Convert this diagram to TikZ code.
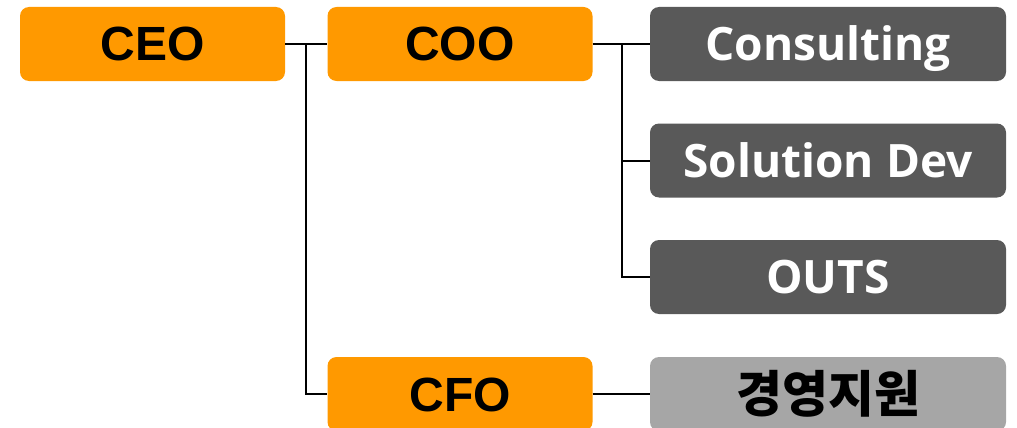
\documentclass[tikz,border=0pt]{standalone}
\usepackage{fontspec}
\setmainfont{Liberation Sans}
\newfontfamily\uifont{Open Sans}
\newfontfamily\krfont{Noto Sans CJK KR}
\definecolor{orgc}{HTML}{FF9900}
\definecolor{dgc}{HTML}{595959}
\definecolor{lgc}{HTML}{A6A6A6}
\begin{document}
\begin{tikzpicture}[x=1pt,y=-1pt,
  box/.style={rectangle,rounded corners=9pt,inner sep=0pt,minimum height=74pt,anchor=center},
  execbox/.style={box,fill=orgc,minimum width=265pt,text=black,font=\fontsize{48}{50}\selectfont\bfseries,text height=34pt,text depth=0pt},
  unitbox/.style={box,fill=dgc,minimum width=356pt,text=white,font=\uifont\fontsize{46}{50}\selectfont\bfseries,text height=33pt,text depth=0pt},
  krbox/.style={box,fill=lgc,minimum width=356pt,text=black,font=\krfont\fontsize{50}{52}\selectfont\bfseries,text height=38pt,text depth=2pt},
  conn/.style={draw=black,line width=2pt}]
\useasboundingbox (0,0) rectangle (1017,428);
\clip (0,0) rectangle (1017,428);
\node[execbox] (ceo) at (152.5,44) {CEO};
\node[execbox] (coo) at (460,44) {COO};
\node[execbox] (cfo) at (460,394) {CFO};
\node[unitbox] (cons) at (828,44) {Consulting};
\node[unitbox] (sol) at (828,160.5) {Solution Dev};
\node[unitbox] (outs) at (828,277) {OUTS};
\node[krbox] (kor) at (828,394) {경영지원};
\coordinate (j1) at (306,44);
\coordinate (j2) at (622,44);
\draw[conn] (ceo.east) -- (coo.west);
\draw[conn] (j1) |- (cfo.west);
\draw[conn] (coo.east) -- (cons.west);
\draw[conn] (j2) |- (sol.west);
\draw[conn] (j2) |- (outs.west);
\draw[conn] (cfo.east) -- (kor.west);
\end{tikzpicture}
\end{document}
